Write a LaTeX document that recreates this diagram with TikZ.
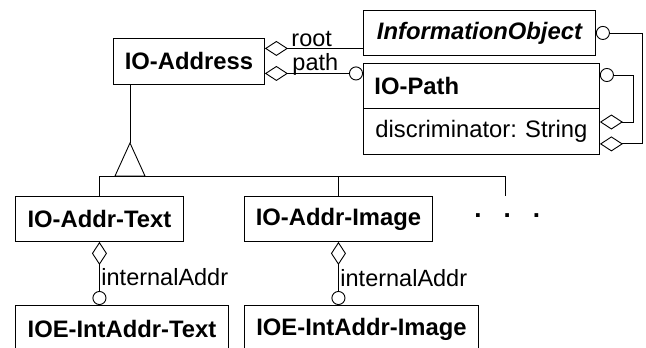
\documentclass[tikz,border=0pt]{standalone}
\usepackage{fontspec}
\setmainfont{Liberation Sans}
\usetikzlibrary{arrows.meta,calc}
\begin{document}
\begin{tikzpicture}[x=1pt,y=-1pt,
  line width=0.9pt,
  cls/.style={draw, anchor=north west, inner sep=0pt, font=\fontsize{23.8}{28}\selectfont\bfseries},
  lbl/.style={inner sep=0pt, font=\fontsize{23.5}{28}\selectfont},
  dia/.tip={Diamond[open,length=23pt,width=15pt]},
  circ/.tip={Circle[open,length=14pt]},
]
\useasboundingbox (0,0) rectangle (646,348);
\clip (0,0) rectangle (646,348);
\fill[white] (0,0) rectangle (646,348);

% classes
\node[cls, minimum width=151pt, minimum height=46pt] (ioaddr) at (113,38) {IO-Address};
\node[cls, minimum width=232pt, minimum height=45pt, font=\fontsize{23.8}{28}\selectfont\bfseries\itshape] (infoobj) at (363,10) {InformationObject};
\node[cls, minimum width=236pt, minimum height=45pt] (iopath) at (363,63) {\hbox to 214pt{IO-Path\hfil}};
\node[cls, minimum width=236pt, minimum height=46pt, font=\fontsize{23.8}{28}\selectfont] (iopathattr) at (363,108) {\hbox to 212pt{discriminator: String\hfil}};
\node[cls, minimum width=168pt, minimum height=45pt] (ioaddrtext) at (15,196) {IO-Addr-Text};
\node[cls, minimum width=188pt, minimum height=45pt] (ioaddrimg) at (244,196) {IO-Addr-Image};
\node[cls, minimum width=213pt, minimum height=47pt] (ioetext) at (15,305) {IOE-IntAddr-Text};
\node[cls, minimum width=234pt, minimum height=47pt] (ioeimg) at (244,305) {IOE-IntAddr-Image};

% associations from IO-Address
\coordinate (r0) at ($(ioaddr.east)+(0,-13)$);
\draw[{dia}-] (r0) -- (r0 -| infoobj.west);
\coordinate (p0) at ($(ioaddr.east)+(0,12)$);
\draw[{dia}-{circ}] (p0) -- (p0 -| iopath.west);
\node[lbl, anchor=base west] (rootlbl) at (291,46) {root};
\node[lbl, anchor=base west] (pathlbl) at (292,70) {path};

% InformationObject -> IO-Path
\coordinate (ib) at ($(iopathattr.south east)+(0,-11)$);
\draw[{circ}-{dia}] (infoobj.east) -- ++(47,0) |- (ib);
% IO-Path self association
\coordinate (pa) at ($(iopath.north east)+(0,12)$);
\coordinate (pb) at ($(iopathattr.north east)+(0,14)$);
\draw[{circ}-{dia}] (pa) -- ++(34,0) |- (pb);

% generalization
\coordinate (apex) at (130,143);
\coordinate (bar) at (130,176);
\draw (ioaddr.south -| apex) -- (apex);
\draw (apex) -- ($(bar)+(-15,0)$) -- ($(bar)+(15,0)$) -- cycle;
\coordinate (more) at (505,196);
\draw (ioaddrtext.north) -- (ioaddrtext.north |- bar) -- (more |- bar) -- (more);
\draw (ioaddrimg.north) -- (ioaddrimg.north |- bar);
\node[lbl, font=\fontsize{26}{28}\selectfont\bfseries, anchor=base west] (dots) at (474,217) {.\hspace{22pt}.\hspace{22pt}.};

% compositions
\draw[{dia}-{circ}] (ioaddrtext.south) -- (ioaddrtext.south |- ioetext.north);
\node[lbl, anchor=west] (ia1) at (101,277) {internalAddr};
\draw[{dia}-{circ}] (ioaddrimg.south) -- (ioaddrimg.south |- ioeimg.north);
\node[lbl, anchor=west] (ia2) at (340,278) {internalAddr};
\end{tikzpicture}
\end{document}
